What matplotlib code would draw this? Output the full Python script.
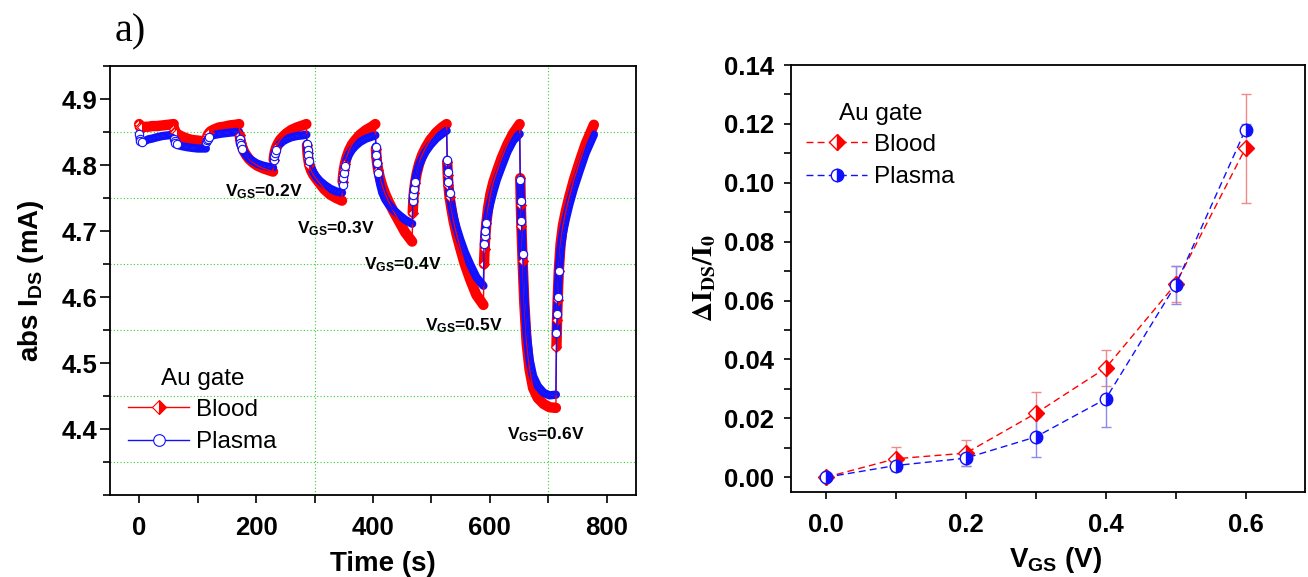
import matplotlib
matplotlib.use('Agg')
import matplotlib.pyplot as plt
from matplotlib.ticker import MultipleLocator, FormatStrFormatter, FixedLocator
import numpy as np

plt.rcParams['font.family'] = ['Liberation Sans', 'DejaVu Sans']
plt.rcParams['mathtext.fontset'] = 'custom'
plt.rcParams['mathtext.rm'] = 'Liberation Sans'
plt.rcParams['mathtext.bf'] = 'Liberation Sans:bold'
plt.rcParams['mathtext.it'] = 'Liberation Sans:italic'

# ---------------- data: panel a (time trace) ----------------
segment_start_s = [0, 60, 115, 172, 230, 287, 348, 405, 468, 527, 590, 652, 714]

time_s = [
    0, 1, 2, 4, 7, 11, 16, 22, 30, 40, 50, 59,
    60, 61, 62, 64, 67, 71, 76, 82, 90, 100, 110, 114,
    115, 116, 117, 119, 122, 126, 131, 137, 145, 155, 165, 171,
    172, 173, 174, 176, 179, 183, 188, 194, 202, 212, 222, 229,
    230, 231, 232, 234, 237, 241, 246, 252, 260, 270, 280, 286,
    287, 288, 289, 291, 294, 298, 303, 309, 317, 327, 337, 347,
    348, 349, 350, 352, 355, 359, 364, 370, 378, 388, 398, 404,
    405, 406, 407, 409, 412, 416, 421, 427, 435, 445, 455, 467,
    468, 469, 470, 472, 475, 479, 484, 490, 498, 508, 518, 526,
    527, 528, 529, 531, 534, 538, 543, 549, 557, 567, 577, 589,
    590, 591, 592, 594, 597, 601, 606, 612, 620, 630, 640, 651,
    652, 653, 654, 656, 659, 663, 668, 674, 682, 692, 702, 713,
    714, 715, 716, 718, 721, 725, 730, 736, 744, 754, 764, 778,
]

blood_mA = [
    4.862, 4.858, 4.857, 4.857, 4.857, 4.858, 4.858, 4.859, 4.859, 4.860, 4.861, 4.862,
    4.855, 4.852, 4.850, 4.848, 4.846, 4.844, 4.842, 4.840, 4.838, 4.837, 4.836, 4.835,
    4.838, 4.842, 4.845, 4.848, 4.851, 4.853, 4.855, 4.857, 4.858, 4.860, 4.861, 4.862,
    4.845, 4.838, 4.834, 4.828, 4.821, 4.815, 4.809, 4.804, 4.799, 4.795, 4.792, 4.790,
    4.808, 4.815, 4.820, 4.826, 4.832, 4.838, 4.843, 4.848, 4.853, 4.857, 4.860, 4.862,
    4.830, 4.818, 4.810, 4.800, 4.792, 4.785, 4.779, 4.772, 4.763, 4.755, 4.750, 4.746,
    4.775, 4.785, 4.792, 4.802, 4.812, 4.822, 4.831, 4.838, 4.846, 4.853, 4.858, 4.862,
    4.825, 4.812, 4.803, 4.792, 4.780, 4.768, 4.756, 4.744, 4.730, 4.714, 4.698, 4.684,
    4.728, 4.745, 4.758, 4.773, 4.788, 4.802, 4.815, 4.826, 4.838, 4.849, 4.857, 4.862,
    4.805, 4.785, 4.770, 4.752, 4.735, 4.715, 4.695, 4.675, 4.650, 4.625, 4.603, 4.588,
    4.650, 4.672, 4.690, 4.712, 4.735, 4.756, 4.774, 4.790, 4.810, 4.831, 4.848, 4.862,
    4.780, 4.740, 4.708, 4.655, 4.590, 4.530, 4.490, 4.462, 4.447, 4.438, 4.433, 4.432,
    4.525, 4.565, 4.595, 4.640, 4.680, 4.708, 4.730, 4.752, 4.778, 4.806, 4.832, 4.861,
]

plasma_mA = [
    4.847, 4.840, 4.836, 4.835, 4.836, 4.837, 4.839, 4.840, 4.842, 4.844, 4.845, 4.846,
    4.840, 4.836, 4.834, 4.832, 4.830, 4.829, 4.828, 4.827, 4.826, 4.825, 4.825, 4.825,
    4.835, 4.838, 4.840, 4.842, 4.844, 4.845, 4.846, 4.847, 4.848, 4.849, 4.850, 4.850,
    4.840, 4.834, 4.830, 4.825, 4.820, 4.815, 4.810, 4.806, 4.802, 4.799, 4.797, 4.796,
    4.808, 4.814, 4.818, 4.823, 4.828, 4.832, 4.836, 4.839, 4.842, 4.844, 4.845, 4.846,
    4.832, 4.822, 4.815, 4.806, 4.797, 4.789, 4.782, 4.776, 4.770, 4.764, 4.760, 4.758,
    4.770, 4.780, 4.788, 4.798, 4.808, 4.816, 4.823, 4.829, 4.835, 4.840, 4.843, 4.845,
    4.828, 4.815, 4.803, 4.788, 4.772, 4.758, 4.748, 4.740, 4.732, 4.724, 4.717, 4.711,
    4.745, 4.755, 4.763, 4.775, 4.788, 4.800, 4.810, 4.820, 4.830, 4.840, 4.847, 4.852,
    4.808, 4.790, 4.775, 4.757, 4.740, 4.722, 4.705, 4.688, 4.668, 4.648, 4.630, 4.617,
    4.680, 4.692, 4.700, 4.712, 4.727, 4.743, 4.760, 4.778, 4.797, 4.820, 4.837, 4.847,
    4.778, 4.745, 4.715, 4.665, 4.600, 4.545, 4.505, 4.480, 4.465, 4.455, 4.451, 4.452,
    4.545, 4.575, 4.600, 4.640, 4.672, 4.697, 4.718, 4.740, 4.765, 4.792, 4.818, 4.846,
]

vgs_step_labels = ['0.2', '0.3', '0.4', '0.5', '0.6']
current_ticks_mA = [4.4, 4.5, 4.6, 4.7, 4.8, 4.9]

# ---------------- data: panel b (relative change) ----------------
vgs_V = [0.0, 0.1, 0.2, 0.3, 0.4, 0.5, 0.6]
blood_ratio = [0.0, 0.0063, 0.0082, 0.0217, 0.0371, 0.0656, 0.1118]
blood_err = [0.0, 0.0040, 0.0044, 0.0072, 0.0060, 0.0060, 0.0185]
plasma_ratio = [0.0, 0.0040, 0.0065, 0.0137, 0.0266, 0.0653, 0.1181]
plasma_err = [0.0, 0.0020, 0.0027, 0.0068, 0.0095, 0.0066, 0.0020]

# ---------------- figure ----------------
RED = '#ff0000'
BLUE = '#1010ff'
GREEN = '#33cc33'

fig = plt.figure(figsize=(13.08, 5.77), dpi=100)
axL = fig.add_axes([0.0841, 0.1421, 0.4021, 0.7435])
axR = fig.add_axes([0.6047, 0.1473, 0.3930, 0.7400])

t = np.array(time_s, dtype=float)
b = np.array(blood_mA)
p = np.array(plasma_mA)
starts = np.searchsorted(t, segment_start_s)
ends = list(starts[1:]) + [len(t)]

# markers at the first samples after each switch
mark_idx = []
for s0 in starts:
    mark_idx += [int(s0), int(s0) + 1, int(s0) + 2, int(s0) + 3]

# grid
for gy in [4.35, 4.45, 4.55, 4.65, 4.75, 4.85]:
    axL.axhline(gy, color=GREEN, lw=0.8, ls=(0, (1, 2)), zorder=0)
for gx in [300, 700]:
    axL.axvline(gx, color=GREEN, lw=0.8, ls=(0, (1, 2)), zorder=0)

# thick bands (dense markers)
for s0, e0 in zip(starts, ends):
    axL.plot(t[s0:e0], b[s0:e0], color=RED, lw=7.5, solid_capstyle='round', zorder=2)
for s0, e0 in zip(starts, ends):
    axL.plot(t[s0:e0], p[s0:e0], color=BLUE, lw=6, solid_capstyle='round', zorder=3)
    axL.plot(t[s0:e0], p[s0:e0], color='white', lw=0.6, alpha=0.35, zorder=3.1)

axL.plot(t, b, color=RED, lw=1.0, marker='D', ms=5, mfc=RED, mfcalt='white',
         fillstyle='right', mec=RED, mew=0.8, markevery=mark_idx, zorder=4, label='Blood')
axL.plot(t, p, color=BLUE, lw=1.0, marker='o', ms=6, mfc='white', mec=BLUE,
         mew=0.8, markevery=mark_idx, zorder=5, label='Plasma')

ann_pos = [(147, 4.759), (270, 4.703), (385, 4.649), (489, 4.557), (629, 4.392)]
for lab, (xa, ya) in zip(vgs_step_labels, ann_pos):
    axL.text(xa, ya, r'V$_\mathbf{GS}$=' + lab + 'V', fontsize=12.5, fontweight='bold',
             ha='left', va='center', zorder=6)

axL.set_xlim(-50, 850)
axL.set_ylim(4.30, 4.95)
axL.xaxis.set_major_locator(MultipleLocator(200))
axL.xaxis.set_minor_locator(MultipleLocator(100))
axL.yaxis.set_major_locator(FixedLocator(current_ticks_mA))
axL.yaxis.set_minor_locator(MultipleLocator(0.05))
axL.yaxis.set_major_formatter(FormatStrFormatter('%.1f'))
axL.tick_params(axis='both', which='both', direction='out', top=False, right=False,
                width=1.2, labelsize=18.5)
axL.tick_params(axis='x', which='both', length=6, pad=9)
axL.tick_params(axis='y', which='major', length=7, pad=2)
axL.tick_params(axis='y', which='minor', length=5)
for lab in axL.get_xticklabels() + axL.get_yticklabels():
    lab.set_fontweight('bold')
for sp in axL.spines.values():
    sp.set_linewidth(1.3)

axL.set_xlabel('Time (s)', fontsize=20, fontweight='bold')
axL.xaxis.set_label_coords(0.519, -0.13)
axL.set_ylabel(r'abs I$_\mathbf{DS}$ (mA)', fontsize=20, fontweight='bold')
axL.yaxis.set_label_coords(-0.122, 0.5)

legL = axL.legend(title='Au gate', loc='upper left', bbox_to_anchor=(0.035, 0.295),
                  frameon=False, fontsize=17.5, title_fontsize=17.5, handlelength=2.5,
                  handletextpad=0.3, labelspacing=0.42, borderpad=0, borderaxespad=0,
                  markerscale=1.4, numpoints=1)
legL._legend_box.sep = 6

fig.text(0.088, 0.945, 'a)', family=['Liberation Serif', 'DejaVu Serif'], fontsize=29,
         ha='left', va='center')

# ---------------- panel b ----------------
axR.errorbar(vgs_V, blood_ratio, yerr=blood_err, fmt='none', ecolor='#f08a8a',
             elinewidth=1, capsize=3.5, capthick=1, zorder=2)
axR.errorbar(vgs_V, plasma_ratio, yerr=plasma_err, fmt='none', ecolor='#8a8af0',
             elinewidth=1, capsize=3.5, capthick=1, zorder=2)
axR.plot(vgs_V, blood_ratio, color=RED, lw=1.0, ls=(0, (5, 3)), marker='D', ms=8,
         mfc=RED, mfcalt='white', fillstyle='right', mec=RED, mew=1.0, zorder=3,
         label='Blood')
axR.plot(vgs_V, plasma_ratio, color=BLUE, lw=1.0, ls=(0, (5, 3)), marker='o', ms=9,
         mfc=BLUE, mfcalt='white', fillstyle='right', mec=BLUE, mew=1.0, zorder=4,
         label='Plasma')

axR.set_xlim(-0.05, 0.685)
axR.set_ylim(-0.005, 0.14)
axR.xaxis.set_major_locator(MultipleLocator(0.2))
axR.xaxis.set_minor_locator(MultipleLocator(0.1))
axR.yaxis.set_major_locator(MultipleLocator(0.02))
axR.yaxis.set_minor_locator(MultipleLocator(0.01))
axR.xaxis.set_major_formatter(FormatStrFormatter('%.1f'))
axR.yaxis.set_major_formatter(FormatStrFormatter('%.2f'))
axR.tick_params(axis='both', which='both', direction='out', top=False, right=False,
                width=1.2, labelsize=18.5, length=5)
axR.tick_params(axis='x', which='both', pad=10)
axR.tick_params(axis='y', which='both', pad=7)
for lab in axR.get_xticklabels() + axR.get_yticklabels():
    lab.set_fontweight('bold')
for sp in axR.spines.values():
    sp.set_linewidth(1.3)

axR.set_xlabel(r'V$_\mathbf{GS}$ (V)', fontsize=20, fontweight='bold')
axR.xaxis.set_label_coords(0.514, -0.125)
axR.set_ylabel(r'$\mathbf{\Delta I_{DS}/I_0}$', fontsize=20, math_fontfamily='stix')
axR.yaxis.set_label_coords(-0.142, 0.5)

legR = axR.legend(title='Au gate', loc='upper left', bbox_to_anchor=(0.03, 0.91),
                  frameon=False, fontsize=17.5, title_fontsize=17.5, handlelength=2.5,
                  handletextpad=0.3, labelspacing=0.42, borderpad=0, borderaxespad=0,
                  numpoints=1)
legR._legend_box.sep = 6

fig.savefig('out.png', dpi=100)
